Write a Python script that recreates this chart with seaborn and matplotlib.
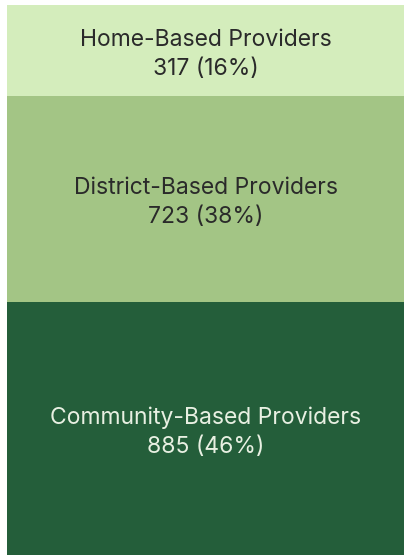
import numpy as np
import pandas as pd
import matplotlib
matplotlib.use('Agg')
import matplotlib.pyplot as plt
import matplotlib.transforms as mtransforms
import seaborn as sns

# Provider counts, listed top to bottom
categories = ['Home-Based Providers', 'District-Based Providers', 'Community-Based Providers']
counts = [317, 723, 885]
percents = [16, 38, 46]
colors = ['#d4edbc', '#a3c585', '#245e3a']
text_colors = ['#2a2a2a', '#2a2a2a', '#e8f0e2']

sns.set_style('white')
plt.rcParams['font.family'] = ['Inter', 'DejaVu Sans']

df = pd.DataFrame({'category': categories, 'count': counts})
df['cum'] = df['count'].cumsum()
df['start'] = df['cum'] - df['count']
total = df['cum'].iloc[-1]

fig = plt.figure(figsize=(4.04, 5.55), dpi=100)
ax = fig.add_axes([7 / 404, 0, 397 / 404, 550 / 555])

# draw cumulative bars largest first so the smaller ones sit on top
for i in reversed(range(len(df))):
    sns.barplot(x=['all'], y=[df['cum'].iloc[i]], color=colors[i],
                width=1.0, saturation=1, ax=ax, edgecolor='none')

# nudge labels down a little
shift = mtransforms.offset_copy(ax.transData, fig=fig, x=0, y=-4, units='dots')
for i, row in df.iterrows():
    mid = (row['start'] + row['cum']) / 2
    ax.text(0, mid, f"{row['category']}\n{row['count']} ({percents[i]}%)",
            ha='center', va='center', fontsize=16.5, color=text_colors[i],
            linespacing=1.42, transform=shift)

ax.set_xlim(-0.5, 0.5)
ax.set_ylim(total, 0)
ax.axis('off')

fig.savefig('out.png', dpi=100)
